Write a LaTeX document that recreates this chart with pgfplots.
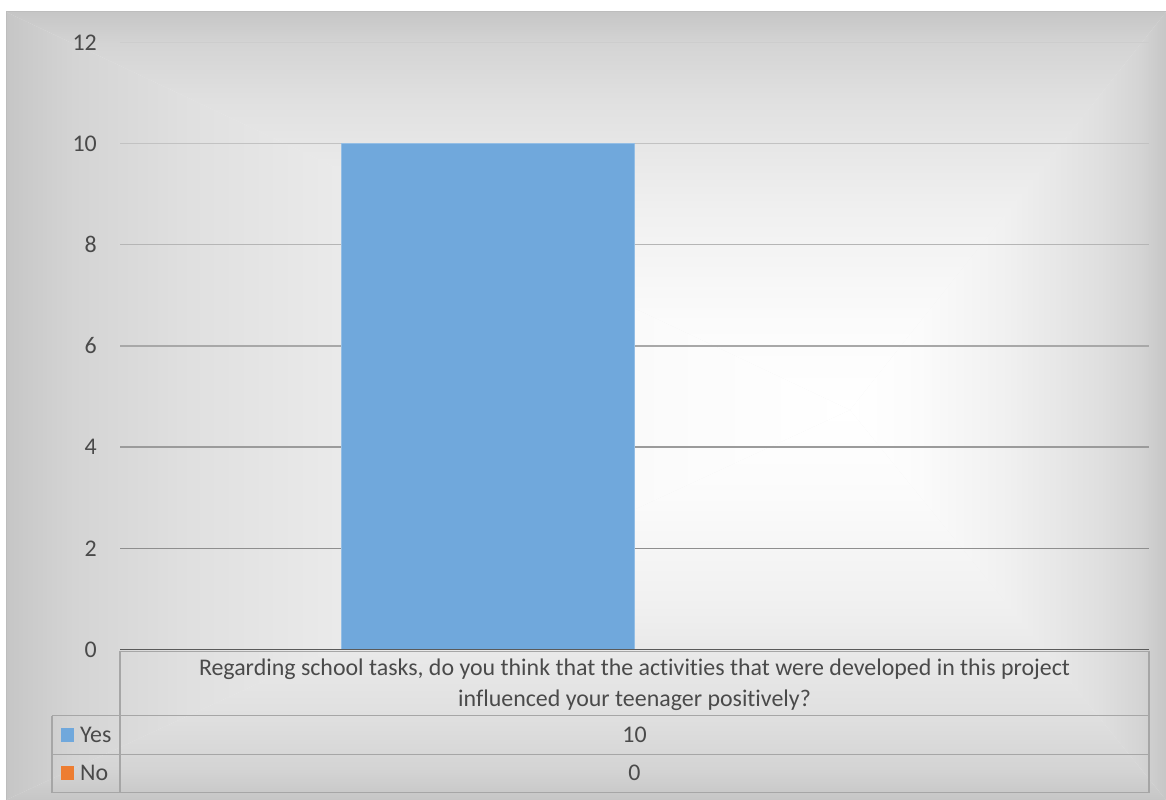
\documentclass[border=0pt]{standalone}
\usepackage{pgfplots}
\pgfplotsset{compat=1.18}
\usepackage{fontspec}
\setmainfont{Carlito}[Ligatures={NoCommon}]
\definecolor{txt}{HTML}{4A4A4A}
\definecolor{barblue}{HTML}{70A8DC}
\definecolor{barorange}{HTML}{ED7D31}
\definecolor{tbl}{HTML}{A6A6A6}
\definecolor{axisdark}{HTML}{5A5A5A}
\definecolor{frame}{HTML}{BDBDBD}
\definecolor{g12}{HTML}{CDCDCD}
\definecolor{g10}{HTML}{C2C2C2}
\definecolor{g8}{HTML}{B5B5B5}
\definecolor{g6}{HTML}{A8A8A8}
\definecolor{g4}{HTML}{9B9B9B}
\definecolor{g2}{HTML}{8E8E8E}
\definecolor{s1}{HTML}{FBFBFB}
\definecolor{s2}{HTML}{F0F0F0}
\definecolor{s3}{HTML}{E0E0E0}
\definecolor{s4}{HTML}{D4D4D4}
\definecolor{s5}{HTML}{C6C6C6}
\pgfdeclareverticalshading{edgeshade}{100bp}{color(0bp)=(white); color(25bp)=(white); color(36bp)=(s1); color(50bp)=(s2); color(64bp)=(s3); color(71bp)=(s4); color(75bp)=(s5); color(100bp)=(s5)}
\newcommand{\fs}{\fontsize{24}{28}\selectfont}
\begin{document}
\begin{tikzpicture}[x=1bp,y=1bp]
\useasboundingbox (0,0) rectangle (1166,800);
\fill[white] (0,0) rectangle (1166,800);
% background with rectangular gradient
\fill[s2] (6,0) rectangle (1166,788);
\shade[shading=edgeshade, shading angle=0] (850,390) -- (6,788) -- (1166,788) -- cycle;
\shade[shading=edgeshade, shading angle=180] (850,390) -- (6,0) -- (1166,0) -- cycle;
\shade[shading=edgeshade, shading angle=90] (850,390) -- (6,788) -- (6,0) -- cycle;
\shade[shading=edgeshade, shading angle=270] (850,390) -- (1166,788) -- (1166,0) -- cycle;
\draw[frame, line width=1bp] (6,0) -- (6,788) -- (1166,788);
\begin{axis}[
  at={(120bp,150.5bp)}, anchor=south west,
  scale only axis, width=1029bp, height=607.2bp,
  xmin=-0.5, xmax=0.5, ymin=0, ymax=12,
  xtick=\empty, ytick={0,2,4,6,8,10,12},
  axis line style={draw=none},
  major tick length=0pt,
  /pgf/number format/assume math mode=true,
  yticklabel style={anchor=east, inner sep=0pt, xshift=-23bp, font=\fs, text=txt},
  clip=false,
]
\draw[g12, line width=1.5bp] (axis cs:-0.5,12) -- (axis cs:0.5,12);
\draw[g10, line width=1.5bp] (axis cs:-0.5,10) -- (axis cs:0.5,10);
\draw[g8, line width=1.5bp] (axis cs:-0.5,8) -- (axis cs:0.5,8);
\draw[g6, line width=1.5bp] (axis cs:-0.5,6) -- (axis cs:0.5,6);
\draw[g4, line width=1.5bp] (axis cs:-0.5,4) -- (axis cs:0.5,4);
\draw[g2, line width=1.5bp] (axis cs:-0.5,2) -- (axis cs:0.5,2);
\addplot[ybar, bar width=0.2838, bar shift=0pt, fill=barblue, draw=barblue!75!white, line width=1bp] coordinates {(-0.1424,10)};
\addplot[ybar, bar width=0.2838, bar shift=0pt, fill=barorange, draw=none] coordinates {(0.1424,0)};
\draw[axisdark, line width=1.3bp] (axis cs:-0.5,0) -- (axis cs:0.5,0);
\end{axis}
% data table
\draw[tbl, line width=1.3bp] (120,148.5) -- (1149,148.5);
\draw[tbl, line width=1.3bp] (120,148.5) -- (120,7.3);
\draw[tbl, line width=1.3bp] (1149,148.5) -- (1149,7.3);
\draw[tbl, line width=1.3bp] (52,84.3) -- (1149,84.3);
\draw[tbl, line width=1.3bp] (52,45.7) -- (1149,45.7);
\draw[tbl, line width=1.3bp] (52,7.3) -- (1149,7.3);
\draw[tbl, line width=1.3bp] (52,84.3) -- (52,7.3);
\node[anchor=base, inner sep=0pt, text=txt, font=\fs] at (634.5,124.3) {Regarding school tasks, do you think that the activities that were developed in this project};
\node[anchor=base, inner sep=0pt, text=txt, font=\fs] at (634.5,93.3) {influenced your teenager positively?};
\node[anchor=base, inner sep=0pt, text=txt, font=\fs] at (634.5,57.3) {10};
\node[anchor=base, inner sep=0pt, text=txt, font=\fs] at (634.5,19) {0};
\fill[barblue] (61,58) rectangle (74,72);
\fill[barorange] (61,20) rectangle (74,34);
\node[anchor=base west, inner sep=0pt, text=txt, font=\fs] at (80,57.3) {Yes};
\node[anchor=base west, inner sep=0pt, text=txt, font=\fs] at (80,19) {No};
\end{tikzpicture}
\end{document}
